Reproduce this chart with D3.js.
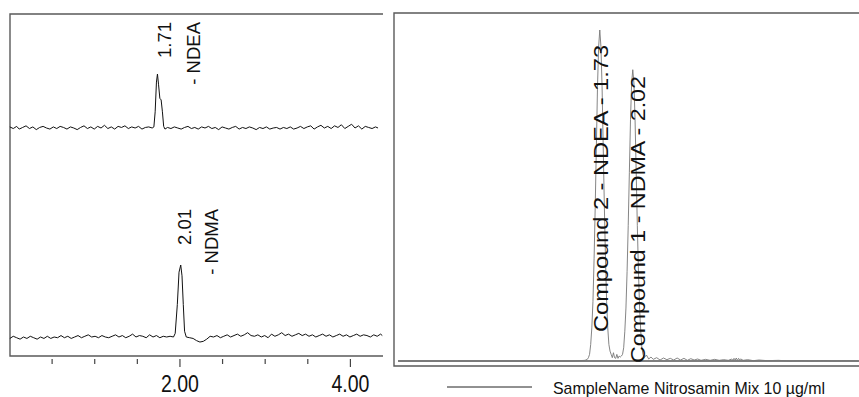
<!DOCTYPE html>
<html><head><meta charset="utf-8">
<script src="https://cdn.jsdelivr.net/npm/d3@7"></script>
<style>html,body{margin:0;padding:0;background:#fff}svg{display:block;font-family:"Liberation Sans",Arial,sans-serif}</style>
</head><body><svg id="c" width="859" height="397"></svg>
<script>
// ---------- DATA ----------
// Left panel, upper trace (NDEA MRM): [time min, response]
const ndeaTrace = [
[0.01,2],[0.05,-1],[0.09,3],[0.12,-2],[0.16,1],[0.20,4],[0.24,-1],[0.28,2],[0.32,-3],[0.36,1],[0.40,3],[0.44,0],[0.48,-2],[0.52,2],[0.56,-1],[0.60,3],[0.64,1],[0.68,-2],[0.72,2],[0.76,0],[0.80,-3],[0.84,1],[0.88,4],[0.92,-1],[0.96,2],[1.00,-2],[1.04,3],[1.08,0],[1.12,5],[1.16,-1],[1.20,2],[1.24,-2],[1.28,3],[1.32,1],[1.36,4],[1.40,-1],[1.44,2],[1.48,0],[1.52,3],[1.56,-2],[1.60,1],[1.64,2],[1.68,0],[1.70,2],
[1.715,30],[1.73,85],[1.742,100],[1.755,80],[1.77,55],[1.785,52],[1.80,30],[1.815,3],
[1.83,-2],[1.86,1],[1.90,-1],[1.94,2],[1.98,0],[2.02,-2],[2.06,1],[2.10,3],[2.14,-1],[2.18,1],[2.22,-2],[2.26,2],[2.30,0],[2.34,3],[2.38,-1],[2.42,1],[2.46,-3],[2.50,2],[2.54,0],[2.58,-2],[2.62,1],[2.66,3],[2.70,-2],[2.74,1],[2.78,-1],[2.82,2],[2.86,0],[2.90,-3],[2.94,1],[2.98,-1],[3.02,2],[3.06,-2],[3.10,0],[3.14,1],[3.18,-2],[3.22,1],[3.26,-1],[3.30,2],[3.34,-2],[3.38,0],[3.42,3],[3.46,-1],[3.50,2],[3.54,4],[3.58,-2],[3.62,2],[3.66,5],[3.70,0],[3.74,3],[3.78,-1],[3.82,4],[3.86,1],[3.90,6],[3.94,-1],[3.98,3],[4.02,7],[4.06,0],[4.10,4],[4.14,-2],[4.18,3],[4.22,1],[4.26,-1],[4.30,2],[4.33,0]
];
// Left panel, lower trace (NDMA MRM)
const ndmaTrace = [
[0.01,-2],[0.05,1],[0.09,-1],[0.13,-3],[0.17,0],[0.21,-2],[0.25,1],[0.29,-1],[0.33,-3],[0.37,0],[0.41,-2],[0.45,1],[0.49,-2],[0.53,0],[0.57,-1],[0.61,2],[0.65,-1],[0.69,1],[0.73,-2],[0.77,0],[0.81,2],[0.85,-1],[0.89,1],[0.93,3],[0.97,0],[1.01,1],[1.05,-1],[1.09,2],[1.13,0],[1.17,-1],[1.21,1],[1.25,3],[1.29,0],[1.33,2],[1.37,-1],[1.41,1],[1.45,4],[1.49,0],[1.53,2],[1.57,1],[1.61,-1],[1.65,3],[1.69,0],[1.73,2],[1.77,-1],[1.81,1],[1.85,0],[1.89,1],[1.93,0],
[1.95,5],[1.975,45],[1.995,90],[2.015,100],[2.03,85],[2.045,45],[2.06,8],
[2.08,0],[2.12,-1],[2.16,-2],[2.20,-5],[2.24,-7],[2.28,-6],[2.32,-3],[2.36,1],[2.40,0],[2.44,2],[2.48,-1],[2.52,1],[2.56,3],[2.60,0],[2.64,2],[2.68,4],[2.72,1],[2.76,3],[2.80,6],[2.84,2],[2.88,1],[2.92,3],[2.96,0],[3.00,2],[3.04,-1],[3.08,4],[3.12,1],[3.16,3],[3.20,6],[3.24,2],[3.28,4],[3.32,1],[3.36,3],[3.40,5],[3.44,2],[3.48,4],[3.52,1],[3.56,3],[3.60,0],[3.64,2],[3.68,4],[3.72,1],[3.76,3],[3.80,0],[3.84,2],[3.88,4],[3.92,1],[3.96,3],[4.00,0],[4.04,2],[4.08,4],[4.12,1],[4.16,3],[4.20,2],[4.24,0],[4.28,3],[4.32,1],[4.36,4],[4.38,2]
];
// Right panel: SampleName Nitrosamin Mix 10 µg/ml
const mixTrace = [
[-0.04,0],[0.5,0],[1.0,0],[1.5,0],[1.60,0.2],[1.62,0.5],[1.63,1],[1.64,2],[1.65,5],[1.66,10],[1.67,18],[1.68,31],[1.69,47],[1.70,65],[1.71,83],[1.72,95],[1.73,100],[1.74,95],[1.75,83],[1.76,65],[1.77,47],[1.78,31],[1.79,18],[1.80,10],[1.81,5],[1.82,3],
[1.83,2],[1.84,1],[1.85,2.5],[1.86,1],[1.87,0.8],[1.88,2],[1.89,0.8],[1.90,1.5],[1.91,1.2],[1.92,1.5],[1.93,2],[1.94,4],[1.95,9],[1.96,16],[1.97,27],[1.98,41],[1.99,57],[2.00,73],[2.01,84],[2.02,88],[2.03,84],[2.04,73],[2.05,57],[2.06,41],[2.07,27],[2.08,16],[2.09,9],[2.10,4],[2.11,2],
[2.12,1],[2.14,1.8],[2.16,0.6],[2.18,1.2],[2.20,0.5],[2.23,1],[2.26,0.3],[2.29,0.9],[2.32,0.4],[2.35,0.8],[2.38,0.3],[2.41,0.9],[2.44,0.3],[2.47,0.8],[2.50,0.2],[2.53,0.7],[2.56,0.3],[2.59,0.6],[2.62,0.2],[2.66,0.5],[2.70,0.2],[2.74,0.5],[2.78,0.2],[2.82,0.4],[2.86,0.2],[2.89,0.6],[2.90,0.2],[2.91,0.8],[2.92,0.3],[2.93,0.9],[2.94,0.2],[2.95,0.8],[2.96,0.3],[2.97,0.6],[2.99,0.2],[3.03,0.4],[3.08,0.1],[3.13,0.3],[3.20,0.1],[3.30,0.2],[3.40,0],[3.50,0.1],[3.60,0],[3.70,0.1],[3.80,0],[3.90,0.1],[4.00,0]
];
const leftTicks = [0.5,1.0,1.5,2.0,2.5,3.0,3.5,4.0];
const leftTickLabels = {2.0:"2.00", 4.0:"4.00"};
const leftPeakLabels = [
  {t:1.71, y:"top", lines:["1.71","- NDEA"]},
  {t:2.01, y:"bot", lines:["2.01","- NDMA"]}
];
const rightPeakLabels = [
  {t:1.73, v:100, text:"Compound 2 - NDEA - 1.73"},
  {t:2.02, v:88,  text:"Compound 1 - NDMA - 2.02"}
];
const legendText = "SampleName Nitrosamin Mix 10 µg/ml";

// ---------- DRAW ----------
const svg = d3.select("#c");
const frameCol = "#5a5a5a";

// Left panel scales
const xL = d3.scaleLinear().domain([0,4.4]).range([9,384]);
const yTop = d3.scaleLinear().domain([0,100]).range([128,74]);
const yBot = d3.scaleLinear().domain([0,100]).range([337,265]);

// left frame (top, left, bottom)
svg.append("path").attr("d","M383,14H10V356H383").attr("fill","none").attr("stroke",frameCol).attr("stroke-width",1.4);

const lineTop = d3.line().x(d=>xL(d[0])).y(d=>yTop(d[1]));
const lineBot = d3.line().x(d=>xL(d[0])).y(d=>yBot(d[1]));
svg.append("path").attr("d",lineTop(ndeaTrace)).attr("fill","none").attr("stroke","#111").attr("stroke-width",1);
svg.append("path").attr("d",lineBot(ndmaTrace)).attr("fill","none").attr("stroke","#111").attr("stroke-width",1);

// left axis
const ax = svg.append("g").attr("transform","translate(0,359)")
  .call(d3.axisBottom(xL).tickValues(leftTicks).tickSize(5).tickFormat(d=>leftTickLabels[d]||""));
ax.select(".domain").remove();
ax.selectAll(".tick line").attr("stroke","#444").attr("stroke-width",1.2)
  .attr("y2",d=>leftTickLabels[d]?8:5);
ax.selectAll(".tick text").attr("y",33).attr("dy",0).attr("fill","#111")
  .style("font-size","23px").attr("font-family","Liberation Sans, Arial, sans-serif")
  .attr("textLength",d=>leftTickLabels[d]?38:null).attr("lengthAdjust","spacingAndGlyphs");

// left peak labels (rotated)
const lblPos = {top:{x0:164,x1:193,y:22}, bot:{x0:184,x1:211,y:209}};
leftPeakLabels.forEach(p=>{
  const pos = lblPos[p.y];
  [pos.x0,pos.x1].forEach((x,i)=>{
    svg.append("text").attr("transform",`translate(${x},${pos.y}) rotate(-90)`)
      .attr("text-anchor","end").attr("dominant-baseline","central")
      .style("font-size","18.5px").attr("fill","#111").text(p.lines[i]);
  });
});

// Right panel
const xR = d3.scaleLinear().domain([0,4.0]).range([403,858]);
const yR = d3.scaleLinear().domain([0,100]).range([361,30]);
svg.append("path").attr("d","M859,13H394V366H859").attr("fill","none").attr("stroke",frameCol).attr("stroke-width",1.4);
svg.append("line").attr("x1",398).attr("x2",859).attr("y1",yR(0)).attr("y2",yR(0)).attr("stroke","#555").attr("stroke-width",1.6);
const lineR = d3.line().x(d=>xR(d[0])).y(d=>yR(d[1]));
svg.append("path").attr("d",lineR(mixTrace)).attr("fill","none").attr("stroke","#777").attr("stroke-width",0.9);

const rLab = [{x:600,yb:332},{x:637.5,yb:363}];
rightPeakLabels.forEach((p,i)=>{
  svg.append("text").attr("transform",`translate(${rLab[i].x},${rLab[i].yb}) rotate(-90)`)
    .attr("text-anchor","start").attr("dominant-baseline","central")
    .style("font-size","21px").attr("fill","#111")
    .attr("textLength",287).attr("lengthAdjust","spacingAndGlyphs").text(p.text);
});

// legend
svg.append("line").attr("x1",447).attr("x2",532).attr("y1",387).attr("y2",387).attr("stroke","#222").attr("stroke-width",1);
svg.append("text").attr("x",553).attr("y",393.5).style("font-size","17px").attr("fill","#111")
  .attr("textLength",272).attr("lengthAdjust","spacingAndGlyphs").text(legendText);
</script></body></html>
